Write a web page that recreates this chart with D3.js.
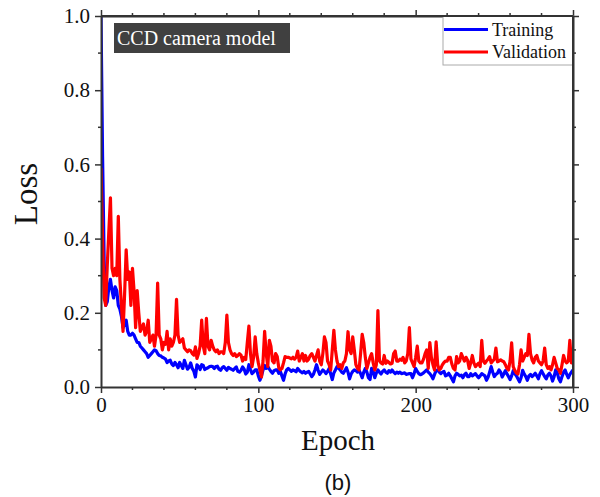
<!DOCTYPE html>
<html>
<head>
<meta charset="utf-8">
<script src="https://cdn.jsdelivr.net/npm/d3@7"></script>
<style>
  body { margin: 0; background: #fff; }
</style>
</head>
<body>
<svg id="chart" width="600" height="497" font-family="'Liberation Serif', 'Times New Roman', serif"></svg>
<script>
// loss per epoch, epoch 0..300
var trainLoss = [
  1.0, 0.62, 0.34, 0.22, 0.23, 0.27, 0.29, 0.26, 0.24, 0.27,
  0.26, 0.22, 0.21, 0.19, 0.16, 0.17, 0.18, 0.15, 0.14, 0.14,
  0.145, 0.14, 0.13, 0.12, 0.12, 0.11, 0.105, 0.10, 0.095, 0.09,
  0.08, 0.085, 0.09, 0.095, 0.1, 0.098, 0.09, 0.085, 0.084, 0.08,
  0.078, 0.075, 0.066, 0.07, 0.072, 0.062, 0.058, 0.066, 0.06, 0.052,
  0.066, 0.058, 0.05, 0.072, 0.06, 0.048, 0.053, 0.065, 0.05, 0.043,
  0.027, 0.06, 0.055, 0.047, 0.06, 0.058, 0.047, 0.05, 0.052, 0.055,
  0.056, 0.055, 0.05, 0.055, 0.056, 0.048, 0.045, 0.052, 0.055, 0.05,
  0.045, 0.053, 0.05, 0.048, 0.045, 0.05, 0.054, 0.042, 0.04, 0.045,
  0.054, 0.048, 0.035, 0.04, 0.06, 0.047, 0.036, 0.04, 0.046, 0.046,
  0.03, 0.018, 0.03, 0.046, 0.058, 0.05, 0.055, 0.048, 0.042, 0.037,
  0.044, 0.046, 0.046, 0.037, 0.042, 0.03, 0.018, 0.035, 0.046, 0.05,
  0.046, 0.042, 0.046, 0.044, 0.041, 0.05, 0.045, 0.041, 0.038, 0.042,
  0.037, 0.04, 0.042, 0.035, 0.028, 0.034, 0.046, 0.06, 0.045, 0.034,
  0.04, 0.046, 0.042, 0.036, 0.042, 0.05, 0.035, 0.02, 0.038, 0.046,
  0.055, 0.05, 0.046, 0.04, 0.037, 0.044, 0.052, 0.04, 0.022, 0.035,
  0.042, 0.046, 0.044, 0.04, 0.045, 0.036, 0.025, 0.04, 0.05, 0.04,
  0.025, 0.02, 0.05, 0.042, 0.025, 0.038, 0.046, 0.04, 0.035, 0.042,
  0.046, 0.04, 0.037, 0.044, 0.04, 0.046, 0.04, 0.036, 0.04, 0.037,
  0.04, 0.036, 0.037, 0.038, 0.034, 0.035, 0.036, 0.036, 0.025, 0.036,
  0.05, 0.042, 0.036, 0.033, 0.035, 0.038, 0.042, 0.046, 0.04, 0.036,
  0.03, 0.022, 0.034, 0.044, 0.046, 0.04, 0.036, 0.04, 0.042, 0.03,
  0.032, 0.037, 0.03, 0.022, 0.014, 0.03, 0.037, 0.034, 0.03, 0.032,
  0.025, 0.033, 0.037, 0.028, 0.028, 0.036, 0.03, 0.033, 0.036, 0.03,
  0.025, 0.03, 0.036, 0.033, 0.03, 0.018, 0.026, 0.04, 0.055, 0.04,
  0.028, 0.034, 0.037, 0.046, 0.04, 0.027, 0.035, 0.044, 0.036, 0.028,
  0.02, 0.03, 0.044, 0.036, 0.03, 0.022, 0.014, 0.025, 0.045, 0.035,
  0.028, 0.018, 0.03, 0.034, 0.028, 0.032, 0.037, 0.03, 0.022, 0.036,
  0.044, 0.036, 0.028, 0.022, 0.032, 0.037, 0.03, 0.016, 0.028, 0.046,
  0.038, 0.022, 0.014, 0.028, 0.04, 0.046, 0.034, 0.025, 0.034, 0.04,
  0.046
];
var valLoss = [
  0.59, 0.40, 0.24, 0.22, 0.33, 0.42, 0.51, 0.32, 0.30, 0.32,
  0.30, 0.46, 0.29, 0.22, 0.15, 0.25, 0.37, 0.29, 0.31, 0.22,
  0.32, 0.26, 0.16, 0.26, 0.2, 0.15, 0.16, 0.17, 0.14, 0.15,
  0.18, 0.12, 0.13, 0.14, 0.11, 0.14, 0.28, 0.14, 0.13, 0.10,
  0.12, 0.115, 0.15, 0.10, 0.13, 0.11, 0.12, 0.14, 0.236, 0.14,
  0.12, 0.125, 0.13, 0.105, 0.10, 0.095, 0.10, 0.098, 0.09, 0.086,
  0.108, 0.077, 0.09, 0.11, 0.18, 0.11, 0.09, 0.185, 0.11, 0.10,
  0.126, 0.11, 0.10, 0.095, 0.10, 0.09, 0.095, 0.095, 0.09, 0.12,
  0.194, 0.12, 0.10, 0.09, 0.085, 0.09, 0.082, 0.085, 0.09, 0.086,
  0.07, 0.08, 0.074, 0.12, 0.164, 0.09, 0.055, 0.08, 0.135, 0.09,
  0.065, 0.046, 0.027, 0.07, 0.15, 0.09, 0.055, 0.126, 0.11, 0.07,
  0.065, 0.09, 0.082, 0.052, 0.046, 0.05, 0.065, 0.082, 0.08, 0.08,
  0.078, 0.076, 0.08, 0.075, 0.08, 0.097, 0.07, 0.08, 0.09, 0.07,
  0.085, 0.07, 0.075, 0.085, 0.09, 0.08, 0.07, 0.085, 0.10, 0.07,
  0.06, 0.09, 0.135, 0.12, 0.07, 0.06, 0.046, 0.10, 0.153, 0.1,
  0.07, 0.055, 0.06, 0.05, 0.065, 0.07, 0.09, 0.149, 0.10, 0.09,
  0.135, 0.1, 0.06, 0.05, 0.046, 0.09, 0.142, 0.12, 0.08, 0.05,
  0.065, 0.08, 0.09, 0.065, 0.046, 0.06, 0.206, 0.07, 0.065, 0.062,
  0.085, 0.064, 0.07, 0.066, 0.062, 0.064, 0.09, 0.097, 0.07, 0.07,
  0.075, 0.072, 0.08, 0.065, 0.07, 0.09, 0.16, 0.075, 0.065, 0.055,
  0.08, 0.11, 0.07, 0.065, 0.065, 0.075, 0.09, 0.10, 0.05, 0.12,
  0.08, 0.06, 0.046, 0.122, 0.06, 0.046, 0.05, 0.06, 0.066, 0.07,
  0.07, 0.08, 0.08, 0.062, 0.05, 0.046, 0.082, 0.065, 0.07, 0.09,
  0.08, 0.07, 0.08, 0.072, 0.05, 0.065, 0.085, 0.065, 0.055, 0.06,
  0.064, 0.055, 0.126, 0.07, 0.064, 0.07, 0.075, 0.082, 0.065, 0.07,
  0.075, 0.105, 0.068, 0.07, 0.073, 0.07, 0.068, 0.06, 0.05, 0.046,
  0.07, 0.119, 0.055, 0.045, 0.038, 0.035, 0.06, 0.10, 0.07, 0.08,
  0.09, 0.085, 0.142, 0.09, 0.073, 0.065, 0.08, 0.085, 0.07, 0.065,
  0.06, 0.07, 0.105, 0.06, 0.05, 0.055, 0.046, 0.06, 0.08, 0.065,
  0.05, 0.046, 0.037, 0.06, 0.085, 0.07, 0.065, 0.07, 0.126, 0.065,
  0.075
];
var xTicks = [0, 100, 200, 300];
var yTicks = [0.0, 0.2, 0.4, 0.6, 0.8, 1.0];
var seriesNames = ["Training", "Validation"];
var seriesColors = ["#0000ff", "#ff0000"];

var svg = d3.select('#chart');
var pLeft = 101, pRight = 573, pTop = 16, pBottom = 387;

var x = d3.scaleLinear().domain([0, 300]).range([pLeft, pRight]);
var y = d3.scaleLinear().domain([0, 1]).range([pBottom, pTop]);

var minorX = d3.range(0, 301, 20).filter(function(d) { return d % 100 !== 0; });
var minorY = d3.range(0.1, 1.0, 0.2);

svg.append('clipPath').attr('id', 'plotClip')
    .append('rect')
    .attr('x', pLeft).attr('y', pTop - 1)
    .attr('width', pRight - pLeft).attr('height', pBottom - pTop + 1);

// lines
var line = d3.line()
    .x(function(d, i) { return x(i); })
    .y(function(d) { return y(d); });

[trainLoss, valLoss].forEach(function(data, k) {
    svg.append('path')
        .datum(data)
        .attr('clip-path', 'url(#plotClip)')
        .attr('fill', 'none')
        .attr('stroke', seriesColors[k])
        .attr('stroke-width', 3.2)
        .attr('stroke-linejoin', 'round')
        .attr('d', line);
});

// axes, ticks outward on all four sides
function styleAxis(g) {
    g.attr('font-family', null);
    g.select('.domain').attr('stroke', '#333').attr('stroke-width', 2);
    g.selectAll('.tick line').attr('stroke', '#333').attr('stroke-width', 1.5);
    g.selectAll('text').attr('font-size', 21).attr('fill', '#111');
}

var axB = svg.append('g').attr('transform', 'translate(0,' + pBottom + ')')
    .call(d3.axisBottom(x).tickValues(xTicks).tickSize(6).tickPadding(4)
        .tickFormat(d3.format('d')).tickSizeOuter(0));
styleAxis(axB);
var axT = svg.append('g').attr('transform', 'translate(0,' + pTop + ')')
    .call(d3.axisTop(x).tickValues(xTicks).tickSize(6).tickFormat('').tickSizeOuter(0));
styleAxis(axT);
var axL = svg.append('g').attr('transform', 'translate(' + pLeft + ',0)')
    .call(d3.axisLeft(y).tickValues(yTicks).tickSize(6).tickPadding(5)
        .tickFormat(d3.format('.1f')).tickSizeOuter(0));
styleAxis(axL);
var axR = svg.append('g').attr('transform', 'translate(' + pRight + ',0)')
    .call(d3.axisRight(y).tickValues(yTicks).tickSize(6).tickFormat('').tickSizeOuter(0));
styleAxis(axR);

// minor ticks
var minor = svg.append('g');
[pBottom, pTop].forEach(function(yy, j) {
    minor.selectAll(null).data(minorX).enter().append('line')
        .attr('x1', function(d) { return x(d); })
        .attr('x2', function(d) { return x(d); })
        .attr('y1', yy)
        .attr('y2', j === 0 ? yy + 3 : yy - 3)
        .attr('stroke', '#333').attr('stroke-width', 1.5);
});
[pLeft, pRight].forEach(function(xx, j) {
    minor.selectAll(null).data(minorY).enter().append('line')
        .attr('y1', function(d) { return y(d); })
        .attr('y2', function(d) { return y(d); })
        .attr('x1', xx)
        .attr('x2', j === 0 ? xx - 3 : xx + 3)
        .attr('stroke', '#333').attr('stroke-width', 1.5);
});

// axis titles
svg.append('text')
    .attr('x', 338).attr('y', 450)
    .attr('text-anchor', 'middle')
    .attr('font-size', 29).attr('fill', '#111')
    .text('Epoch');

svg.append('text')
    .attr('transform', 'translate(37,194) rotate(-90)')
    .attr('text-anchor', 'middle')
    .attr('font-size', 33).attr('fill', '#111')
    .text('Loss');

svg.append('text')
    .attr('x', 338).attr('y', 490)
    .attr('text-anchor', 'middle')
    .attr('font-family', "'Liberation Sans', Arial, sans-serif")
    .attr('font-size', 22).attr('fill', '#111')
    .text('(b)');

// label box
svg.append('rect')
    .attr('x', 114).attr('y', 23).attr('width', 176).attr('height', 30)
    .attr('fill', '#404040');
svg.append('text')
    .attr('x', 117).attr('y', 45)
    .attr('font-size', 20).attr('fill', '#fff')
    .text('CCD camera model');

// legend
var legend = svg.append('g');
legend.append('rect')
    .attr('x', 443).attr('y', pTop).attr('width', pRight - 443).attr('height', 49)
    .attr('fill', '#fff').attr('stroke', '#aaa').attr('stroke-width', 1);
seriesNames.forEach(function(name, i) {
    var ly = 29.5 + i * 22.5;
    legend.append('line')
        .attr('x1', 444).attr('x2', 488).attr('y1', ly).attr('y2', ly)
        .attr('stroke', seriesColors[i]).attr('stroke-width', 3);
    legend.append('text')
        .attr('x', 492).attr('y', ly + 6)
        .attr('font-size', 18).attr('fill', '#111')
        .text(name);
});
// redraw right/top frame over legend box
svg.append('line').attr('x1', pRight).attr('x2', pRight).attr('y1', pTop).attr('y2', pBottom)
    .attr('stroke', '#333').attr('stroke-width', 2);
svg.append('line').attr('x1', pLeft).attr('x2', pRight).attr('y1', pTop).attr('y2', pTop)
    .attr('stroke', '#333').attr('stroke-width', 2);
</script>
</body>
</html>
